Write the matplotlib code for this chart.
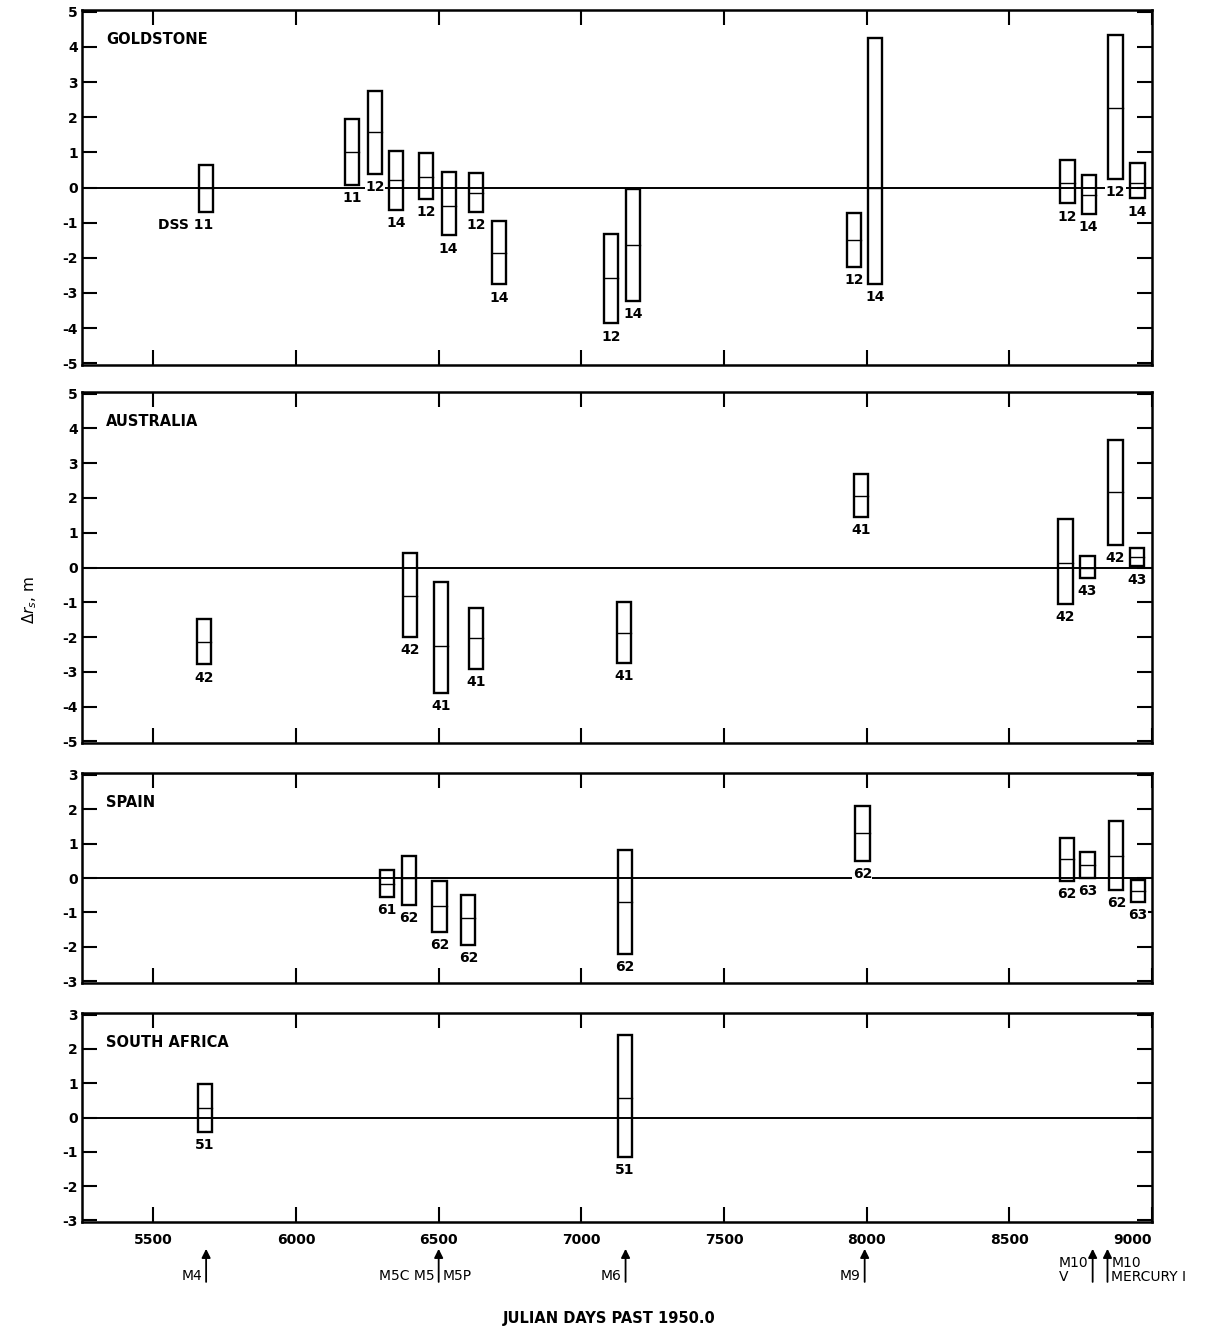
import matplotlib
matplotlib.use('Agg')
import matplotlib.pyplot as plt
from matplotlib.patches import Rectangle

plt.rcParams['font.family'] = ['DejaVu Sans']
plt.rcParams['axes.unicode_minus'] = False

# --- datos (dias julianos desde 1950.0, metros) ---
gold_days = [5684, 6196, 6276, 6350, 6455, 6535, 6632, 6712, 7103, 7181, 7956, 8029, 8704, 8778, 8872, 8949]
gold_top = [0.64, 1.95, 2.75, 1.05, 0.98, 0.44, 0.41, -0.95, -1.33, -0.04, -0.73, 4.25, 0.78, 0.36, 4.33, 0.69]
gold_bot = [-0.70, 0.08, 0.39, -0.64, -0.33, -1.36, -0.70, -2.75, -3.86, -3.22, -2.26, -2.74, -0.45, -0.74, 0.24, -0.31]
gold_mid = [0.0, 1.0, 1.57, 0.2, 0.31, -0.54, -0.16, -1.87, -2.58, -1.63, -1.48, 0.0, 0.14, -0.21, 2.27, 0.12]
gold_dss = ['DSS 11', '11', '12', '14', '12', '14', '12', '14', '12', '14', '12', '14', '12', '14', '12', '14']

aus_days = [5678, 6399, 6507, 6631, 7150, 7981, 8697, 8774, 8872, 8947]
aus_top = [-1.49, 0.43, -0.41, -1.17, -1.0, 2.69, 1.4, 0.33, 3.67, 0.57]
aus_bot = [-2.79, -2.0, -3.6, -2.91, -2.74, 1.45, -1.05, -0.29, 0.65, 0.03]
aus_mid = [-2.15, -0.82, -2.27, -2.03, -1.89, 2.07, 0.14, 0.0, 2.16, 0.29]
aus_dss = ['42', '42', '41', '41', '41', '41', '42', '43', '42', '43']

spain_days = [6320, 6395, 6503, 6604, 7153, 7985, 8701, 8774, 8875, 8951]
spain_top = [0.23, 0.65, -0.09, -0.49, 0.82, 2.09, 1.15, 0.75, 1.67, -0.05]
spain_bot = [-0.56, -0.79, -1.57, -1.94, -2.21, 0.49, -0.09, 0.0, -0.35, -0.7]
spain_mid = [-0.17, 0.0, -0.82, -1.15, -0.7, 1.31, 0.56, 0.38, 0.63, -0.38]
spain_dss = ['61', '62', '62', '62', '62', '62', '62', '63', '62', '63']

sa_days = [5680, 7153]
sa_top = [0.97, 2.42]
sa_bot = [-0.41, -1.15]
sa_mid = [0.29, 0.57]
sa_dss = ['51', '51']

mission_days = [5685, 6500, 7155, 7993, 8792, 8844]
mission_left = ['M4', 'M5C M5', 'M6', 'M9', 'M10\nV', '']
mission_right = ['', 'M5P', '', '', '', 'M10\nMERCURY I']

x_ticks = [5500, 6000, 6500, 7000, 7500, 8000, 8500, 9000]

# --- figura ---
fig = plt.figure(figsize=(12.19, 13.30), dpi=100)
W, H = 1219.0, 1330.0
left, right = 82 / W, 1152 / W

def make_axes(top_px, bot_px):
    return fig.add_axes([left, 1 - bot_px / H, right - left, (bot_px - top_px) / H])

BOX_W = 50
LBL_OFF = 0.38

def draw_station(ax, days, top, bot, mid, dss, name, ymax):
    ax.axhline(0, color='black', lw=1.4, zorder=1)
    for x, t, b, m, s in zip(days, top, bot, mid, dss):
        ax.add_patch(Rectangle((x - BOX_W / 2, b), BOX_W, t - b, fill=False,
                               lw=1.7, ec='black', zorder=3))
        ax.plot([x - BOX_W / 2, x + BOX_W / 2], [m, m], color='black', lw=1.0, zorder=3)
        if s.startswith('DSS'):
            ax.text(x + BOX_W / 2, b - LBL_OFF, s, ha='right', va='center', fontsize=10,
                    fontweight='bold', zorder=2,
                    bbox=dict(facecolor='white', edgecolor='none', pad=0.3))
        else:
            ax.text(x, b - LBL_OFF, s, ha='center', va='center', fontsize=10,
                    fontweight='bold', zorder=2,
                    bbox=dict(facecolor='white', edgecolor='none', pad=0.3))
    ax.text(5335, ymax - 0.8, name, ha='left', va='center', fontsize=10.5, fontweight='bold')
    ax.set_xlim(5250, 9000)
    ax.set_ylim(-ymax - 0.05, ymax + 0.05)
    ax.set_xticks(x_ticks)
    ax.set_yticks(range(-ymax, ymax + 1))
    ax.tick_params(direction='in', length=11, width=1.5, top=True, right=True,
                   labelsize=10, pad=3)
    for lab in ax.get_yticklabels():
        lab.set_fontweight('bold')
    for sp in ax.spines.values():
        sp.set_linewidth(1.8)

ax_g = make_axes(10, 365)
ax_a = make_axes(392, 743)
ax_s = make_axes(773, 983)
ax_f = make_axes(1013, 1222)

draw_station(ax_g, gold_days, gold_top, gold_bot, gold_mid, gold_dss, 'GOLDSTONE', 5)
draw_station(ax_a, aus_days, aus_top, aus_bot, aus_mid, aus_dss, 'AUSTRALIA', 5)
draw_station(ax_s, spain_days, spain_top, spain_bot, spain_mid, spain_dss, 'SPAIN', 3)
draw_station(ax_f, sa_days, sa_top, sa_bot, sa_mid, sa_dss, 'SOUTH AFRICA', 3)

for ax in (ax_g, ax_a, ax_s):
    ax.tick_params(labelbottom=False)

ax_f.set_xticklabels([str(t) for t in x_ticks])
for lab in ax_f.get_xticklabels():
    lab.set_fontweight('bold')
ax_f.get_xticklabels()[-1].set_horizontalalignment('right')
ax_f.tick_params(axis='x', pad=8)

# flechas de misiones bajo el eje
tr = ax_f.get_xaxis_transform()
for x, lt, rt in zip(mission_days, mission_left, mission_right):
    ax_f.annotate('', xy=(x, -0.115), xytext=(x, -0.30), xycoords=tr, textcoords=tr,
                  arrowprops=dict(arrowstyle='-|>', lw=1.3, color='black', mutation_scale=13),
                  annotation_clip=False)
    if lt:
        yy = -0.23 if '\n' in lt else -0.26
        ax_f.text(x - 14, yy, lt, transform=tr, ha='right', va='center', fontsize=10,
                  multialignment='left', linespacing=1.0)
    if rt:
        yy = -0.23 if '\n' in rt else -0.26
        ax_f.text(x + 14, yy, rt, transform=tr, ha='left', va='center', fontsize=10,
                  multialignment='left', linespacing=1.0)

fig.text(0.5, 1 - 1318 / H, 'JULIAN DAYS PAST 1950.0', ha='center', va='center',
         fontsize=10.5, fontweight='bold')
fig.text(30 / W, 1 - 600 / H, r'$\Delta r_s$, m', rotation=90, ha='center', va='center',
         fontsize=11)

fig.savefig('out.png', dpi=100)
